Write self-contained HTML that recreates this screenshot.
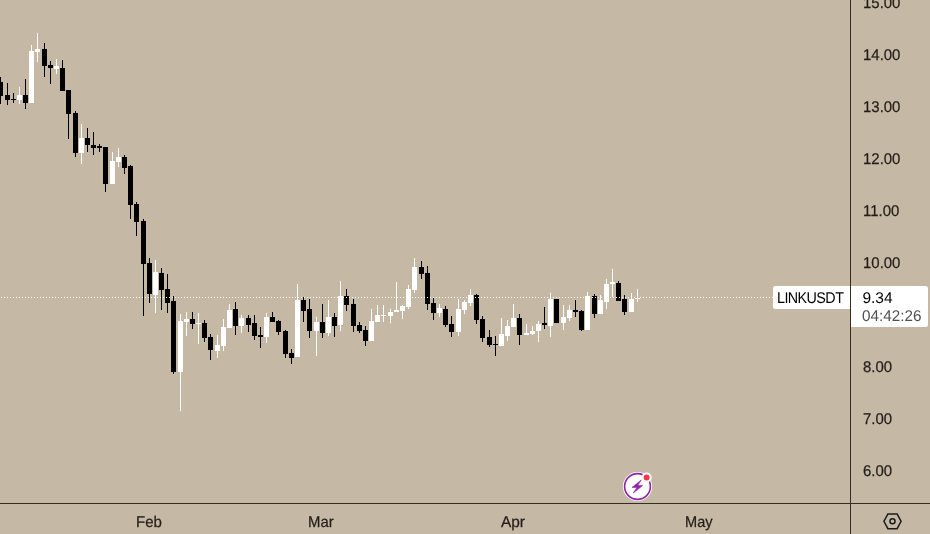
<!DOCTYPE html>
<html><head><meta charset="utf-8"><title>LINKUSDT chart</title>
<style>
html,body{margin:0;padding:0;}
body{width:930px;height:534px;overflow:hidden;background:#c5b9a6;font-family:"Liberation Sans",sans-serif;color:#1f1f1f;position:relative;text-rendering:geometricPrecision;}
#chart{position:absolute;left:0;top:0;width:930px;height:534px;}
svg{position:absolute;left:0;top:0;}
.w{fill:#ffffff} .b{fill:#000000}
.vline{position:absolute;left:850px;top:0;width:1px;height:534px;background:#352c24;}
.hline{position:absolute;left:0;top:503px;width:930px;height:1px;background:#352c24;}
.pl{position:absolute;left:862.65px;height:20px;line-height:20px;font-size:15.5px;white-space:nowrap;transform:scaleX(0.965);transform-origin:0 50%;color:#241e19;-webkit-text-stroke:0.25px #241e19;}
.tl{position:absolute;top:512.5px;height:20px;line-height:20px;font-size:15.5px;white-space:nowrap;transform:scaleX(0.968);transform-origin:0 50%;color:#241e19;-webkit-text-stroke:0.25px #241e19;}
.dots{position:absolute;left:1px;top:297px;width:773px;height:1px;background:repeating-linear-gradient(to right,#fffdf2 0,#fffdf2 1px,transparent 1px,transparent 3px);}
.sym{position:absolute;left:773px;top:286px;width:77px;height:23px;background:#fff;border-radius:2.5px 0 0 2.5px;color:#000;font-size:15px;line-height:23px;}
.sym span{position:absolute;left:4.3px;top:0.65px;font-size:15.5px;letter-spacing:-0.6px;white-space:nowrap;transform:scaleX(0.923);transform-origin:0 50%;}
.pr{position:absolute;left:851px;top:286px;width:77px;height:41px;background:#fff;border-radius:0 2.5px 2.5px 0;color:#000;font-size:15px;}
.pr .a{position:absolute;left:11.4px;top:2.7px;line-height:20px;font-size:15.5px;white-space:nowrap;transform:scaleX(1.0);transform-origin:0 50%;}
.pr .t{position:absolute;left:11.4px;top:20.8px;line-height:20px;font-size:15.5px;color:#505050;white-space:nowrap;transform:scaleX(0.985);transform-origin:0 50%;}
</style></head><body>
<div id="chart">
<svg width="930" height="534" viewBox="0 0 930 534" shape-rendering="crispEdges">
<rect class="b" x="0" y="77" width="1" height="27"/><rect class="b" x="-2" y="82" width="5" height="14"/>
<rect class="b" x="7" y="83" width="1" height="22"/><rect class="b" x="5" y="95" width="5" height="5"/>
<rect class="b" x="13" y="93" width="1" height="10"/><rect class="b" x="11" y="99" width="5" height="1"/>
<rect class="w" x="19" y="87" width="1" height="17"/><rect class="w" x="17" y="95" width="5" height="5"/>
<rect class="b" x="25" y="79" width="1" height="30"/><rect class="b" x="23" y="95" width="5" height="8"/>
<rect class="w" x="31" y="45" width="1" height="58"/><rect class="w" x="29" y="51" width="5" height="52"/>
<rect class="w" x="37" y="33" width="1" height="29"/><rect class="w" x="35" y="49" width="5" height="3"/>
<rect class="b" x="44" y="43" width="1" height="34"/><rect class="b" x="42" y="49" width="5" height="17"/>
<rect class="b" x="50" y="61" width="1" height="23"/><rect class="b" x="48" y="65" width="5" height="3"/>
<rect class="w" x="56" y="59" width="1" height="15"/><rect class="w" x="54" y="66" width="5" height="3"/>
<rect class="b" x="62" y="60" width="1" height="31"/><rect class="b" x="60" y="68" width="5" height="23"/>
<rect class="b" x="68" y="90" width="1" height="49"/><rect class="b" x="66" y="90" width="5" height="24"/>
<rect class="b" x="75" y="111" width="1" height="46"/><rect class="b" x="73" y="113" width="5" height="40"/>
<rect class="w" x="81" y="124" width="1" height="40"/><rect class="w" x="79" y="138" width="5" height="15"/>
<rect class="b" x="87" y="128" width="1" height="24"/><rect class="b" x="85" y="138" width="5" height="7"/>
<rect class="b" x="93" y="132" width="1" height="23"/><rect class="b" x="91" y="145" width="5" height="3"/>
<rect class="b" x="99" y="144" width="1" height="8"/><rect class="b" x="97" y="146" width="5" height="2"/>
<rect class="b" x="105" y="147" width="1" height="45"/><rect class="b" x="103" y="147" width="5" height="37"/>
<rect class="w" x="112" y="152" width="1" height="32"/><rect class="w" x="110" y="161" width="5" height="23"/>
<rect class="w" x="118" y="148" width="1" height="19"/><rect class="w" x="116" y="157" width="5" height="5"/>
<rect class="b" x="124" y="155" width="1" height="19"/><rect class="b" x="122" y="157" width="5" height="11"/>
<rect class="b" x="130" y="165" width="1" height="54"/><rect class="b" x="128" y="166" width="5" height="39"/>
<rect class="b" x="136" y="202" width="1" height="34"/><rect class="b" x="134" y="204" width="5" height="18"/>
<rect class="b" x="143" y="219" width="1" height="97"/><rect class="b" x="141" y="221" width="5" height="43"/>
<rect class="b" x="149" y="258" width="1" height="45"/><rect class="b" x="147" y="263" width="5" height="31"/>
<rect class="w" x="155" y="260" width="1" height="53"/><rect class="w" x="153" y="272" width="5" height="23"/>
<rect class="b" x="161" y="268" width="1" height="42"/><rect class="b" x="159" y="273" width="5" height="17"/>
<rect class="b" x="167" y="274" width="1" height="39"/><rect class="b" x="165" y="289" width="5" height="14"/>
<rect class="b" x="173" y="296" width="1" height="78"/><rect class="b" x="171" y="301" width="5" height="71"/>
<rect class="w" x="180" y="314" width="1" height="97"/><rect class="w" x="178" y="321" width="5" height="51"/>
<rect class="w" x="186" y="312" width="1" height="24"/><rect class="w" x="184" y="319" width="5" height="3"/>
<rect class="b" x="192" y="312" width="1" height="17"/><rect class="b" x="190" y="319" width="5" height="5"/>
<rect class="w" x="198" y="313" width="1" height="31"/><rect class="w" x="196" y="323" width="5" height="1"/>
<rect class="b" x="204" y="320" width="1" height="22"/><rect class="b" x="202" y="323" width="5" height="15"/>
<rect class="b" x="210" y="334" width="1" height="26"/><rect class="b" x="208" y="337" width="5" height="13"/>
<rect class="w" x="217" y="335" width="1" height="23"/><rect class="w" x="215" y="345" width="5" height="6"/>
<rect class="w" x="223" y="319" width="1" height="32"/><rect class="w" x="221" y="327" width="5" height="19"/>
<rect class="w" x="229" y="304" width="1" height="24"/><rect class="w" x="227" y="310" width="5" height="18"/>
<rect class="b" x="235" y="302" width="1" height="33"/><rect class="b" x="233" y="309" width="5" height="17"/>
<rect class="w" x="241" y="315" width="1" height="18"/><rect class="w" x="239" y="318" width="5" height="8"/>
<rect class="b" x="248" y="315" width="1" height="17"/><rect class="b" x="246" y="318" width="5" height="7"/>
<rect class="b" x="254" y="315" width="1" height="25"/><rect class="b" x="252" y="323" width="5" height="13"/>
<rect class="b" x="260" y="327" width="1" height="21"/><rect class="b" x="258" y="335" width="5" height="2"/>
<rect class="w" x="266" y="313" width="1" height="30"/><rect class="w" x="264" y="317" width="5" height="20"/>
<rect class="b" x="272" y="312" width="1" height="10"/><rect class="b" x="270" y="317" width="5" height="5"/>
<rect class="b" x="278" y="320" width="1" height="15"/><rect class="b" x="276" y="321" width="5" height="11"/>
<rect class="b" x="285" y="330" width="1" height="28"/><rect class="b" x="283" y="331" width="5" height="23"/>
<rect class="b" x="291" y="349" width="1" height="15"/><rect class="b" x="289" y="353" width="5" height="5"/>
<rect class="w" x="297" y="284" width="1" height="73"/><rect class="w" x="295" y="300" width="5" height="57"/>
<rect class="b" x="303" y="297" width="1" height="25"/><rect class="b" x="301" y="300" width="5" height="11"/>
<rect class="b" x="309" y="299" width="1" height="39"/><rect class="b" x="307" y="309" width="5" height="22"/>
<rect class="w" x="316" y="317" width="1" height="39"/><rect class="w" x="314" y="322" width="5" height="9"/>
<rect class="b" x="322" y="304" width="1" height="34"/><rect class="b" x="320" y="322" width="5" height="11"/>
<rect class="w" x="328" y="300" width="1" height="36"/><rect class="w" x="326" y="317" width="5" height="16"/>
<rect class="b" x="334" y="313" width="1" height="24"/><rect class="b" x="332" y="317" width="5" height="9"/>
<rect class="w" x="340" y="281" width="1" height="50"/><rect class="w" x="338" y="296" width="5" height="29"/>
<rect class="b" x="346" y="289" width="1" height="22"/><rect class="b" x="344" y="296" width="5" height="9"/>
<rect class="b" x="353" y="299" width="1" height="33"/><rect class="b" x="351" y="304" width="5" height="22"/>
<rect class="b" x="359" y="322" width="1" height="11"/><rect class="b" x="357" y="325" width="5" height="6"/>
<rect class="b" x="365" y="326" width="1" height="20"/><rect class="b" x="363" y="330" width="5" height="11"/>
<rect class="w" x="371" y="309" width="1" height="32"/><rect class="w" x="369" y="321" width="5" height="20"/>
<rect class="w" x="377" y="305" width="1" height="17"/><rect class="w" x="375" y="315" width="5" height="7"/>
<rect class="w" x="383" y="305" width="1" height="17"/><rect class="w" x="381" y="315" width="5" height="1"/>
<rect class="w" x="390" y="309" width="1" height="14"/><rect class="w" x="388" y="312" width="5" height="4"/>
<rect class="w" x="396" y="282" width="1" height="30"/><rect class="w" x="394" y="310" width="5" height="2"/>
<rect class="w" x="402" y="305" width="1" height="14"/><rect class="w" x="400" y="306" width="5" height="5"/>
<rect class="w" x="408" y="285" width="1" height="24"/><rect class="w" x="406" y="289" width="5" height="18"/>
<rect class="w" x="414" y="258" width="1" height="35"/><rect class="w" x="412" y="267" width="5" height="23"/>
<rect class="b" x="421" y="261" width="1" height="18"/><rect class="b" x="419" y="267" width="5" height="7"/>
<rect class="b" x="427" y="266" width="1" height="44"/><rect class="b" x="425" y="273" width="5" height="31"/>
<rect class="b" x="433" y="298" width="1" height="22"/><rect class="b" x="431" y="303" width="5" height="10"/>
<rect class="w" x="439" y="304" width="1" height="13"/><rect class="w" x="437" y="308" width="5" height="5"/>
<rect class="b" x="445" y="306" width="1" height="21"/><rect class="b" x="443" y="309" width="5" height="16"/>
<rect class="b" x="451" y="316" width="1" height="21"/><rect class="b" x="449" y="324" width="5" height="8"/>
<rect class="w" x="458" y="299" width="1" height="37"/><rect class="w" x="456" y="309" width="5" height="23"/>
<rect class="w" x="464" y="300" width="1" height="14"/><rect class="w" x="462" y="302" width="5" height="8"/>
<rect class="w" x="470" y="289" width="1" height="17"/><rect class="w" x="468" y="295" width="5" height="8"/>
<rect class="b" x="476" y="294" width="1" height="30"/><rect class="b" x="474" y="295" width="5" height="25"/>
<rect class="b" x="482" y="316" width="1" height="26"/><rect class="b" x="480" y="319" width="5" height="19"/>
<rect class="b" x="489" y="330" width="1" height="17"/><rect class="b" x="487" y="337" width="5" height="8"/>
<rect class="b" x="495" y="336" width="1" height="20"/><rect class="b" x="493" y="344" width="5" height="1"/>
<rect class="w" x="501" y="318" width="1" height="28"/><rect class="w" x="499" y="334" width="5" height="12"/>
<rect class="w" x="507" y="320" width="1" height="21"/><rect class="w" x="505" y="326" width="5" height="10"/>
<rect class="w" x="513" y="304" width="1" height="23"/><rect class="w" x="511" y="318" width="5" height="9"/>
<rect class="b" x="519" y="314" width="1" height="31"/><rect class="b" x="517" y="318" width="5" height="17"/>
<rect class="w" x="526" y="324" width="1" height="11"/><rect class="w" x="524" y="333" width="5" height="2"/>
<rect class="w" x="532" y="326" width="1" height="9"/><rect class="w" x="530" y="331" width="5" height="3"/>
<rect class="w" x="538" y="321" width="1" height="21"/><rect class="w" x="536" y="324" width="5" height="7"/>
<rect class="b" x="544" y="307" width="1" height="22"/><rect class="b" x="542" y="323" width="5" height="2"/>
<rect class="w" x="550" y="293" width="1" height="44"/><rect class="w" x="548" y="299" width="5" height="27"/>
<rect class="b" x="556" y="299" width="1" height="24"/><rect class="b" x="554" y="299" width="5" height="24"/>
<rect class="w" x="563" y="305" width="1" height="25"/><rect class="w" x="561" y="317" width="5" height="6"/>
<rect class="w" x="569" y="305" width="1" height="16"/><rect class="w" x="567" y="310" width="5" height="8"/>
<rect class="b" x="575" y="300" width="1" height="17"/><rect class="b" x="573" y="310" width="5" height="2"/>
<rect class="b" x="581" y="310" width="1" height="21"/><rect class="b" x="579" y="311" width="5" height="19"/>
<rect class="w" x="587" y="292" width="1" height="38"/><rect class="w" x="585" y="296" width="5" height="34"/>
<rect class="b" x="594" y="294" width="1" height="24"/><rect class="b" x="592" y="296" width="5" height="18"/>
<rect class="w" x="600" y="295" width="1" height="19"/><rect class="w" x="598" y="300" width="5" height="14"/>
<rect class="w" x="606" y="279" width="1" height="30"/><rect class="w" x="604" y="284" width="5" height="18"/>
<rect class="w" x="612" y="269" width="1" height="28"/><rect class="w" x="610" y="282" width="5" height="2"/>
<rect class="b" x="618" y="281" width="1" height="20"/><rect class="b" x="616" y="283" width="5" height="18"/>
<rect class="b" x="624" y="295" width="1" height="20"/><rect class="b" x="622" y="299" width="5" height="13"/>
<rect class="w" x="631" y="293" width="1" height="19"/><rect class="w" x="629" y="299" width="5" height="13"/>
<rect class="w" x="637" y="289" width="1" height="13"/><rect class="w" x="635" y="298" width="5" height="1"/>
</svg>
<div class="dots"></div>
<div class="vline"></div>
<div class="hline"></div>
<div class="pl" style="top:-5.65px">15.00</div>
<div class="pl" style="top:46.35px">14.00</div>
<div class="pl" style="top:98.35px">13.00</div>
<div class="pl" style="top:150.35px">12.00</div>
<div class="pl" style="top:202.35px">11.00</div>
<div class="pl" style="top:254.35px">10.00</div>
<div class="pl" style="top:358.35px">8.00</div>
<div class="pl" style="top:410.35px">7.00</div>
<div class="pl" style="top:462.35px">6.00</div>
<div class="tl" style="left:136px;transform:scaleX(0.968)">Feb</div>
<div class="tl" style="left:308.2px;transform:scaleX(0.96)">Mar</div>
<div class="tl" style="left:501.4px;transform:scaleX(0.995)">Apr</div>
<div class="tl" style="left:684.5px;transform:scaleX(0.94)">May</div>
<div class="sym"><span>LINKUSDT</span></div>
<div class="pr"><div class="a">9.34</div><div class="t">04:42:26</div></div>
<svg width="930" height="534" viewBox="0 0 930 534">
<g>
<circle cx="637.5" cy="486.5" r="14.6" fill="#fff"/>
<circle cx="637.5" cy="486.5" r="12.9" fill="none" stroke="#8e24aa" stroke-width="1.6"/>
<circle cx="646.6" cy="477.5" r="5.1" fill="#fff"/>
<circle cx="646.6" cy="477.6" r="3" fill="#f23645"/>
<polygon points="641.2,480 632,487.4 637,487.4 633.3,493 642.6,485.6 637.7,485.6" fill="#8e24aa" stroke="#8e24aa" stroke-width="0.6" stroke-linejoin="round"/>
</g>
<g fill="none" stroke="#1c1c1c" stroke-width="1.5">
<polygon points="883.9,521.3 887.9,513.9 897.1,513.9 901.1,521.3 897.1,528.7 887.9,528.7"/>
<circle cx="892.5" cy="521.3" r="2.55"/>
</g>
</svg>
</div>
</body></html>
